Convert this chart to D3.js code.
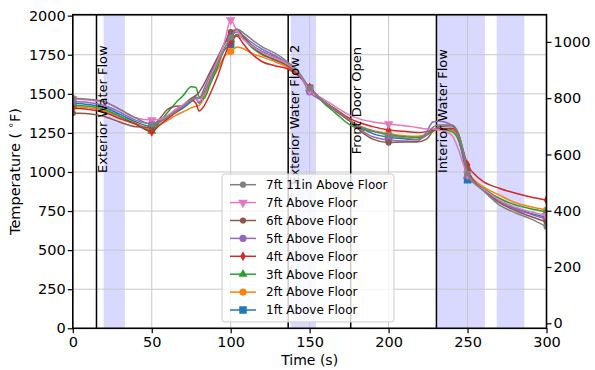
<!DOCTYPE html>
<html><head><meta charset="utf-8">
<script src="https://cdn.jsdelivr.net/npm/d3@7"></script>
<style>body{margin:0;background:#fff}svg{display:block;font-family:"DejaVu Sans",sans-serif}</style>
</head><body><svg id="c" width="595" height="370"></svg>
<script>
const times = [0,10,20,30,40,50,55,60,65,70,75,78,80,83,87,92,96,100,104,108,113,120,128,136,143,150,158,166,175,183,190,200,210,218,224,228,232,240,244,248,250,254,260,270,280,290,300];
const ft1  = [1440,1432,1412,1368,1320,1290,1320,1350,1380,1410,1450,1470,1440,1490,1580,1700,1780,1815,1880,1860,1815,1770,1735,1690,1628,1535,1460,1395,1330,1280,1245,1222,1212,1208,1240,1270,1280,1270,1220,1050,950,930,885,815,770,735,710];
const ft2  = [1417,1410,1392,1352,1310,1275,1300,1330,1360,1385,1410,1420,1425,1470,1570,1660,1740,1770,1800,1790,1760,1735,1705,1670,1620,1535,1460,1395,1330,1290,1265,1245,1232,1228,1240,1262,1270,1265,1220,1080,1000,950,905,853,805,778,757];
const ft3  = [1427,1420,1400,1355,1307,1262,1320,1380,1440,1490,1545,1540,1480,1470,1560,1680,1790,1850,1880,1850,1800,1750,1720,1680,1622,1535,1450,1380,1305,1270,1260,1240,1225,1220,1235,1262,1275,1258,1210,1070,975,935,895,832,790,765,745];
const ft4  = [1407,1400,1382,1340,1305,1258,1300,1340,1380,1420,1460,1440,1390,1420,1500,1620,1740,1830,1870,1820,1760,1705,1680,1660,1615,1540,1460,1405,1345,1310,1290,1269,1260,1252,1258,1268,1275,1280,1240,1110,1045,990,938,896,865,840,820];
const ft5  = [1450,1445,1425,1382,1330,1310,1330,1360,1390,1430,1470,1480,1470,1530,1620,1730,1820,1870,1895,1870,1830,1785,1745,1695,1630,1512,1455,1395,1330,1265,1225,1205,1198,1196,1255,1320,1325,1300,1240,1080,975,930,885,815,765,730,700];
const ft6  = [1377,1372,1355,1318,1290,1285,1340,1400,1420,1425,1470,1490,1510,1560,1640,1740,1820,1895,1910,1870,1810,1755,1715,1680,1625,1530,1460,1395,1330,1255,1210,1188,1192,1192,1210,1260,1290,1295,1250,1100,1020,945,885,805,755,715,680];
const ft7  = [1467,1460,1445,1398,1345,1333,1335,1360,1400,1430,1460,1470,1450,1500,1600,1720,1830,1972,1900,1850,1810,1765,1730,1690,1632,1525,1470,1420,1365,1335,1320,1307,1295,1285,1275,1275,1270,1235,1150,1030,985,930,890,820,775,745,720];
const ft7_11 = [1472,1465,1450,1400,1345,1305,1320,1350,1385,1420,1460,1475,1470,1510,1590,1700,1790,1860,1915,1890,1850,1800,1760,1705,1640,1535,1460,1400,1335,1285,1262,1237,1218,1208,1235,1285,1300,1300,1250,1100,990,935,880,790,740,700,650];
const seriesNames = ["1ft Above Floor","2ft Above Floor","3ft Above Floor","4ft Above Floor","5ft Above Floor","6ft Above Floor","7ft Above Floor","7ft 11in Above Floor"];
const seriesValues = [ft1, ft2, ft3, ft4, ft5, ft6, ft7, ft7_11];
const markerTimes = [0,50,100,150,200,250,300];
const eventTimes = [15, 136.4, 176, 230.3];
const eventLabels = ["Exterior Water Flow","Exterior Water Flow 2","Front Door Open","Interior Water Flow"];
const eventLabelStart = [1000, 925, 1120, 1000];
const spanStarts = [19.5, 138, 230.3, 268.5];
const spanEnds = [33, 154, 261, 286];
const xTicks = [0,50,100,150,200,250,300];
const yTicks = [0,250,500,750,1000,1250,1500,1750,2000];
const cTicks = [0,200,400,600,800,1000];

const colors = ["#1f77b4","#ff7f0e","#2ca02c","#d62728","#9467bd","#8c564b","#e377c2","#7f7f7f"];
const markers = ["square","circle","triUp","thinDiamond","circle","smallCircle","triDown","smallCircle"];

const L=72.8, R=546.5, T=14.7, B=328.3;
const x = d3.scaleLinear().domain([0,300]).range([L,R]);
const y = d3.scaleLinear().domain([0,2006]).range([B,T]);
const yc = d3.scaleLinear().domain([(0-32)*5/9,(2006-32)*5/9]).range([B,T]);

const svg = d3.select("#c");
svg.append("defs").append("clipPath").attr("id","clip").append("rect")
  .attr("x",L).attr("y",T).attr("width",R-L).attr("height",B-T);

// spans
svg.append("g").selectAll("rect").data(spanStarts).join("rect")
  .attr("x",(d)=>x(d)).attr("y",T).attr("width",(d,i)=>x(spanEnds[i])-x(d)).attr("height",B-T)
  .attr("fill","rgb(217,217,255)");

// grid
const grid = svg.append("g").attr("stroke","#c8c8c8").attr("stroke-width",1);
grid.selectAll("line.gx").data(xTicks).join("line").attr("class","gx")
  .attr("x1",d=>x(d)).attr("x2",d=>x(d)).attr("y1",T).attr("y2",B);
grid.selectAll("line.gy").data(yTicks).join("line").attr("class","gy")
  .attr("x1",L).attr("x2",R).attr("y1",d=>y(d)).attr("y2",d=>y(d));

// event lines
svg.append("g").selectAll("line").data(eventTimes).join("line")
  .attr("x1",d=>x(d)).attr("x2",d=>x(d)).attr("y1",T).attr("y2",B)
  .attr("stroke","#000").attr("stroke-width",1.5);

function markerPath(type){
  switch(type){
    case "square": return d3.symbol(d3.symbolSquare, 56)();
    case "circle": return d3.symbol(d3.symbolCircle, 40)();
    case "smallCircle": return d3.symbol(d3.symbolCircle, 30)();
    case "triUp": return d3.symbol(d3.symbolTriangle, 36)();
    case "triDown": return d3.symbol(d3.symbolTriangle, 40)();
    case "thinDiamond": return "M0,-5L2.8,0L0,5L-2.8,0Z";
  }
}

const plot = svg.append("g").attr("clip-path","url(#clip)");
const line = d3.line().x((d,i)=>x(times[i])).y(d=>y(d)).curve(d3.curveMonotoneX);
seriesValues.forEach((vals,si)=>{
  const g = plot.append("g");
  g.append("path").attr("d",line(vals)).attr("fill","none")
    .attr("stroke",colors[si]).attr("stroke-width",1.5).attr("stroke-linejoin","round");
  const pts = markerTimes.map(t=>[t, vals[times.indexOf(t)]]);
  g.selectAll("path.m").data(pts).join("path").attr("class","m")
    .attr("d",markerPath(markers[si]))
    .attr("transform",d=>`translate(${x(d[0])},${y(d[1])})${markers[si]==="triDown"?" rotate(180)":""}`)
    .attr("fill",colors[si]);
});

// event labels
svg.append("g").selectAll("text").data(eventTimes).join("text")
  .attr("transform",(d,i)=>`translate(${x(d)+10.5},${y(eventLabelStart[i])+1}) rotate(-90)`)
  .attr("font-size",13).attr("fill","#000").text((d,i)=>eventLabels[i]);

// axes spines
const ax = svg.append("g");
ax.append("rect").attr("x",L).attr("y",T).attr("width",R-L).attr("height",B-T)
  .attr("fill","none").attr("stroke","#000").attr("stroke-width",1.6);

// x axis
const xa = svg.append("g").attr("transform",`translate(0,${B})`)
  .call(d3.axisBottom(x).tickValues(xTicks).tickSize(5).tickPadding(3).tickFormat(d3.format("d")));
xa.select(".domain").remove();
xa.selectAll("line").attr("stroke-width",1.2);
xa.selectAll("text").attr("font-size",14.5).attr("font-family","DejaVu Sans").attr("fill","#000");

const ya = svg.append("g").attr("transform",`translate(${L},0)`)
  .call(d3.axisLeft(y).tickValues(yTicks).tickSize(5).tickPadding(2).tickFormat(d3.format("d")));
ya.select(".domain").remove();
ya.selectAll("line").attr("stroke-width",1.2);
ya.selectAll("text").attr("font-size",14.5).attr("font-family","DejaVu Sans").attr("fill","#000");

const yca = svg.append("g").attr("transform",`translate(${R},0)`)
  .call(d3.axisRight(yc).tickValues(cTicks).tickSize(5).tickPadding(2).tickFormat(d3.format("d")));
yca.select(".domain").remove();
yca.selectAll("line").attr("stroke-width",1.2);
yca.selectAll("text").attr("font-size",14.5).attr("font-family","DejaVu Sans").attr("fill","#000");

// axis labels
svg.append("text").attr("x",(L+R)/2).attr("y",365).attr("text-anchor","middle")
  .attr("font-size",14).text("Time (s)");
const yl = svg.append("text").attr("transform",`translate(20,${(T+B)/2}) rotate(-90)`)
  .attr("text-anchor","middle").attr("font-size",14.5);
yl.append("tspan").text("Temperature ( ");
yl.append("tspan").attr("font-size",10).attr("dy",-6).text("∘");
yl.append("tspan").attr("dy",6).text("F)");

// legend
const lg = svg.append("g");
lg.append("rect").attr("x",222).attr("y",174).attr("width",172).attr("height",148).attr("rx",3)
  .attr("fill","#fff").attr("fill-opacity",0.8).attr("stroke","#cccccc");
const order = [7,6,5,4,3,2,1,0];
order.forEach((si,k)=>{
  const cy = 184.7 + k*17.9;
  lg.append("line").attr("x1",230).attr("x2",256).attr("y1",cy).attr("y2",cy)
    .attr("stroke",colors[si]).attr("stroke-width",1.5);
  lg.append("path").attr("d",markerPath(markers[si]))
    .attr("transform",`translate(243,${cy})${markers[si]==="triDown"?" rotate(180)":""}`).attr("fill",colors[si]);
  lg.append("text").attr("x",266).attr("y",cy).attr("dy","0.36em").attr("font-size",12).text(seriesNames[si]);
});
</script></body></html>
